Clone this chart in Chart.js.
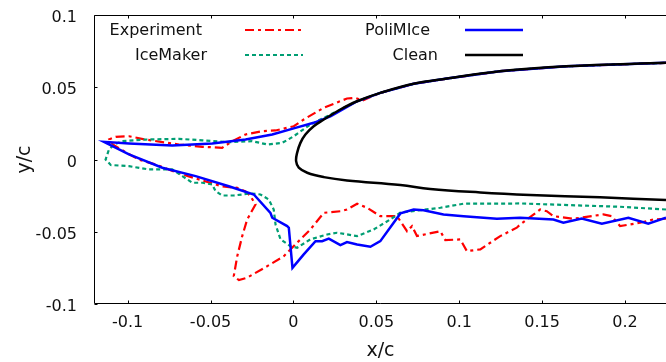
<!DOCTYPE html>
<html>
<head>
<meta charset="utf-8">
<script src="https://cdn.jsdelivr.net/npm/chart.js@4.4.1/dist/chart.umd.min.js"></script>
<style>
  html, body { margin: 0; padding: 0; background: #fff; }
  #wrap { width: 666px; height: 362px; }
</style>
</head>
<body>
<div id="wrap"><canvas id="iceChart" width="666" height="362"></canvas></div>
<script>
// axis ticks
const xTicks = [-0.1, -0.05, 0, 0.05, 0.1, 0.15, 0.2];
const yTicks = [-0.1, -0.05, 0, 0.05, 0.1];

// Experiment (lower surface from the trailing side, round the horn, back along the upper side)
const expX = [0.2247, 0.2170, 0.2090, 0.1970, 0.1920, 0.1869, 0.1689, 0.1568, 0.1528, 0.1488,
  0.1367, 0.1347, 0.1247, 0.1127, 0.1046, 0.1006, 0.0916, 0.0886, 0.0745, 0.0715,
  0.0685, 0.0625, 0.0524, 0.0444, 0.0384, 0.0323, 0.0283, 0.0183, 0.0102, 0.0022,
  -0.0058, -0.0158, -0.0279, -0.0329, -0.0360, -0.0339, -0.0309, -0.0279, -0.0229, -0.0259,
  -0.0289, -0.0339, -0.0428, -0.0669, -0.0753, -0.0831, -0.0934, -0.1022, -0.1090, -0.1110,
  -0.1072, -0.0992, -0.0892, -0.0691, -0.0550, -0.0430, -0.0369, -0.0289, -0.0189, -0.0108,
  0.0002, 0.0062, 0.0183, 0.0323, 0.0373, 0.0416, 0.0524, 0.0725, 0.0926, 0.1245,
  0.1645, 0.2247];
const expY = [-0.0410, -0.0415, -0.0438, -0.0461, -0.0392, -0.0380, -0.0410, -0.0392, -0.0358, -0.0346,
  -0.0450, -0.0472, -0.0530, -0.0622, -0.0634, -0.0553, -0.0558, -0.0496, -0.0530, -0.0461,
  -0.0496, -0.0392, -0.0392, -0.0334, -0.0306, -0.0346, -0.0358, -0.0369, -0.0484, -0.0576,
  -0.0669, -0.0738, -0.0818, -0.0835, -0.0807, -0.0669, -0.0530, -0.0415, -0.0311, -0.0254,
  -0.0221, -0.0196, -0.0187, -0.0104, -0.0069, -0.0035, 0.0000, 0.0057, 0.0104, 0.0140,
  0.0157, 0.0161, 0.0138, 0.0104, 0.0088, 0.0081, 0.0127, 0.0173, 0.0196, 0.0201,
  0.0230, 0.0277, 0.0358, 0.0422, 0.0427, 0.0408, 0.0461, 0.0524, 0.0560, 0.0611,
  0.0645, 0.0669];

// IceMaker
const iceX = [0.2247, 0.1970, 0.1669, 0.1367, 0.1227, 0.1026, 0.0886, 0.0765, 0.0645, 0.0584,
  0.0484, 0.0384, 0.0263, 0.0203, 0.0102, 0.0022, -0.0018, -0.0078, -0.0108, -0.0119,
  -0.0149, -0.0199, -0.0259, -0.0360, -0.0430, -0.0470, -0.0490, -0.0550, -0.0610, -0.0670,
  -0.0731, -0.0811, -0.0872, -0.0992, -0.1102, -0.1133, -0.1113, -0.1082, -0.1032, -0.0892,
  -0.0691, -0.0550, -0.0390, -0.0249, -0.0158, -0.0068, 0.0002, 0.0102, 0.0223, 0.0384,
  0.0524, 0.0725, 0.0926, 0.1245, 0.1645, 0.2247];
const iceY = [-0.0346, -0.0327, -0.0316, -0.0304, -0.0306, -0.0306, -0.0334, -0.0351, -0.0367, -0.0415,
  -0.0484, -0.0530, -0.0507, -0.0519, -0.0553, -0.0611, -0.0600, -0.0553, -0.0450, -0.0346,
  -0.0277, -0.0242, -0.0235, -0.0249, -0.0249, -0.0219, -0.0173, -0.0161, -0.0161, -0.0115,
  -0.0069, -0.0069, -0.0069, -0.0046, -0.0038, 0.0000, 0.0069, 0.0104, 0.0127, 0.0138,
  0.0143, 0.0133, 0.0120, 0.0127, 0.0104, 0.0115, 0.0161, 0.0242, 0.0311, 0.0403,
  0.0461, 0.0524, 0.0560, 0.0611, 0.0645, 0.0669];

// PoliMIce
const polX = [0.2247, 0.2140, 0.2020, 0.1860, 0.1739, 0.1628, 0.1568, 0.1367, 0.1227, 0.1026,
  0.0905, 0.0785, 0.0725, 0.0645, 0.0524, 0.0464, 0.0384, 0.0323, 0.0283, 0.0213,
  0.0173, 0.0133, 0.0062, -0.0006, -0.0028, -0.0038, -0.0128, -0.0139, -0.0239, -0.0390,
  -0.0590, -0.0791, -0.0992, -0.1143, -0.0992, -0.0731, -0.0490, -0.0289, -0.0128, 0.0012,
  0.0122, 0.0223, 0.0384, 0.0524, 0.0725, 0.0926, 0.1245, 0.1645, 0.2247];
const polY = [-0.0403, -0.0445, -0.0403, -0.0445, -0.0408, -0.0438, -0.0415, -0.0403, -0.0410, -0.0392,
  -0.0380, -0.0351, -0.0346, -0.0373, -0.0565, -0.0604, -0.0588, -0.0572, -0.0593, -0.0548,
  -0.0565, -0.0565, -0.0657, -0.0750, -0.0472, -0.0461, -0.0403, -0.0369, -0.0242, -0.0185,
  -0.0115, -0.0057, 0.0035, 0.0122, 0.0111, 0.0097, 0.0111, 0.0138, 0.0173, 0.0219,
  0.0254, 0.0299, 0.0403, 0.0461, 0.0524, 0.0560, 0.0611, 0.0645, 0.0669];

// Clean airfoil, upper surface -> nose -> lower surface
const cleanX = [0.2247, 0.1645, 0.1245, 0.0926, 0.0725, 0.0524, 0.0384, 0.0283, 0.0183, 0.0122,
  0.0072, 0.0042, 0.0022, 0.0016, 0.0032, 0.0083, 0.0183, 0.0323, 0.0645, 0.0825,
  0.1127, 0.1428, 0.1849, 0.2247];
const cleanY = [0.0669, 0.0645, 0.0611, 0.0560, 0.0524, 0.0461, 0.0403, 0.0346, 0.0277, 0.0230,
  0.0173, 0.0115, 0.0046, -0.0012, -0.0057, -0.0092, -0.0122, -0.0145, -0.0176, -0.0204,
  -0.0228, -0.0245, -0.0262, -0.0280];

const textColor = '#111';
const fontFamily = "'DejaVu Sans', sans-serif";
const tickLen = 3;

function toPoints(xs, ys) {
  return xs.map((x, i) => ({ x: x, y: ys[i] }));
}

function makeSet(label, xs, ys, color, dash, width, order, tension) {
  return {
    label: label,
    data: toPoints(xs, ys),
    showLine: true,
    borderColor: color,
    backgroundColor: color,
    borderWidth: width,
    borderDash: dash,
    pointRadius: 0,
    pointHoverRadius: 0,
    tension: tension || 0,
    order: order,
  };
}

// key layout: text right edge, sample start, row centre
const keySlots = [
  { textRight: 202, lineX: 245, y: 30 },
  { textRight: 207, lineX: 245, y: 55 },
  { textRight: 430, lineX: 465, y: 30 },
  { textRight: 438, lineX: 465, y: 55 },
];

// frame with inward ticks on left, top and bottom
const frameTicks = {
  id: 'frameTicks',
  afterDatasetsDraw(chart) {
    const { ctx, chartArea: a, scales } = chart;
    const l = Math.round(a.left) - 0.5;
    const t = Math.round(a.top) + 0.5;
    const b = Math.round(a.bottom) - 0.5;
    ctx.save();
    ctx.strokeStyle = '#000';
    ctx.lineWidth = 1;
    ctx.beginPath();
    ctx.moveTo(a.right + 2, t);
    ctx.lineTo(l, t);
    ctx.lineTo(l, b);
    ctx.lineTo(a.right + 2, b);
    xTicks.forEach(v => {
      const px = Math.round(scales.x.getPixelForValue(v)) + 0.5;
      ctx.moveTo(px, t);
      ctx.lineTo(px, t + tickLen);
      ctx.moveTo(px, b);
      ctx.lineTo(px, b - tickLen);
    });
    yTicks.forEach(v => {
      const py = Math.round(scales.y.getPixelForValue(v)) + 0.5;
      ctx.moveTo(l, py);
      ctx.lineTo(l + tickLen, py);
    });
    ctx.stroke();
    ctx.restore();
  },
  afterDraw(chart) {
    const ctx = chart.ctx;
    ctx.save();
    ctx.font = '16px ' + fontFamily;
    ctx.textAlign = 'right';
    ctx.textBaseline = 'middle';
    chart.data.datasets.forEach((ds, i) => {
      const slot = keySlots[i];
      ctx.fillStyle = textColor;
      ctx.fillText(ds.label, slot.textRight, slot.y + 1);
      ctx.beginPath();
      ctx.strokeStyle = ds.borderColor;
      ctx.lineWidth = ds.borderWidth;
      ctx.setLineDash(ds.borderDash);
      ctx.moveTo(slot.lineX, slot.y);
      ctx.lineTo(slot.lineX + 58, slot.y);
      ctx.stroke();
    });
    ctx.restore();
  }
};

new Chart(document.getElementById('iceChart'), {
  type: 'scatter',
  data: {
    datasets: [
      makeSet('Experiment', expX, expY, '#ff0000', [9, 4, 3, 4], 2.2, 3),
      makeSet('IceMaker', iceX, iceY, '#009e73', [4, 3], 2.2, 2),
      makeSet('PoliMIce', polX, polY, '#0000ff', [], 2.5, 1),
      makeSet('Clean', cleanX, cleanY, '#000000', [], 2.5, 0, 0.4),
    ]
  },
  options: {
    responsive: false,
    animation: false,
    devicePixelRatio: 1,
    layout: { padding: { top: 15, right: 0, bottom: 0, left: 0 } },
    plugins: {
      legend: { display: false },
      tooltip: { enabled: false },
    },
    scales: {
      x: {
        type: 'linear',
        min: -0.1197,
        max: 0.2247,
        afterBuildTicks: s => { s.ticks = xTicks.map(v => ({ value: v })); },
        afterFit: s => {
          s.height = 58;
          s.paddingLeft = 0;
          s.paddingRight = 0;
        },
        grid: { display: false, drawTicks: false, tickLength: 0 },
        border: { display: false },
        ticks: {
          padding: 9,
          color: textColor,
          font: { family: fontFamily, size: 16 },
          maxRotation: 0,
          autoSkip: false,
          callback: v => String(v),
        },
        title: {
          display: true,
          text: 'x/c',
          color: textColor,
          font: { family: fontFamily, size: 19 },
          padding: { top: 0, bottom: 0 },
        },
      },
      y: {
        type: 'linear',
        min: -0.1,
        max: 0.1,
        afterBuildTicks: s => { s.ticks = yTicks.map(v => ({ value: v })); },
        afterFit: s => {
          s.width = 95;
          s.paddingTop = 0;
          s.paddingBottom = 0;
        },
        grid: { display: false, drawTicks: false, tickLength: 0 },
        border: { display: false },
        ticks: {
          padding: 18,
          labelOffset: 3,
          color: textColor,
          font: { family: fontFamily, size: 16 },
          autoSkip: false,
          callback: v => String(v),
        },
        title: {
          display: true,
          text: 'y/c',
          color: textColor,
          font: { family: fontFamily, size: 19 },
          padding: { top: 14, bottom: 0 },
        },
      },
    },
  },
  plugins: [frameTicks],
});
</script>
</body>
</html>
